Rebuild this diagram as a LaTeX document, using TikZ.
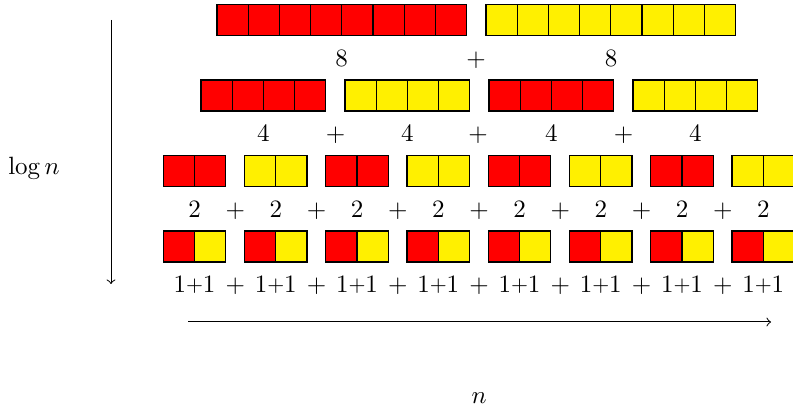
\documentclass[tikz,border=0pt]{standalone}
\definecolor{myyellow}{RGB}{255,240,0}
\definecolor{myred}{RGB}{255,0,0}
\tikzset{
  cell/.style={draw=black, line width=0.5pt, minimum width=12.48pt, minimum height=12.4pt, inner sep=0pt, outer sep=0pt, anchor=north west},
  redcell/.style={cell, fill=myred},
  yelcell/.style={cell, fill=myyellow},
  lbl/.style={anchor=base, inner sep=0pt, outer sep=0pt},
  axis/.style={->, line width=0.4pt}
}
\newcommand{\oneplusone}{1\raisebox{0.7pt}{\fontsize{8.5}{9}\selectfont+}1}
\begin{document}
\begin{tikzpicture}[x=0.4pt, y=-0.4pt]
\useasboundingbox (0,0) rectangle (793,411);
% row 1
\foreach \c in {0,...,7} {
  \node[redcell] (ra-\c) at (217+31.2*\c, 4.5) {};
  \node[yelcell] (ya-\c) at (486+31.2*\c, 4.5) {};
}
\node[lbl] (l1-0) at (341.5,66.5) {8};
\node[lbl] (p1-0) at (476,66.5) {+};
\node[lbl] (l1-1) at (611,66.5) {8};
% row 2
\foreach \g in {0,...,3} {
  \pgfmathtruncatemacro{\odd}{mod(\g,2)}
  \foreach \c in {0,...,3} {
    \ifnum\odd=0
      \node[redcell] (rb-\g-\c) at (201+144*\g+31.2*\c, 80) {};
    \else
      \node[yelcell] (rb-\g-\c) at (201+144*\g+31.2*\c, 80) {};
    \fi
  }
  \node[lbl] (l2-\g) at (201+144*\g+62.4, 142) {4};
}
\node[lbl] (p2-0) at (335.5,142) {+};
\node[lbl] (p2-1) at (478,142) {+};
\node[lbl] (p2-2) at (623.5,142) {+};
% row 3
\foreach \g in {0,...,7} {
  \pgfmathtruncatemacro{\odd}{mod(\g,2)}
  \foreach \c in {0,1} {
    \ifnum\odd=0
      \node[redcell] (rc-\g-\c) at (163.3+81.25*\g+31.2*\c, 155.5) {};
    \else
      \node[yelcell] (rc-\g-\c) at (163.3+81.25*\g+31.2*\c, 155.5) {};
    \fi
  }
  \node[lbl] (l3-\g) at (163.3+81.25*\g+31.2, 217.5) {2};
}
\foreach \g in {0,...,6} {
  \node[lbl] (p3-\g) at (163.3+81.25*\g+72.0, 217.5) {+};
}
% row 4
\foreach \g in {0,...,7} {
  \node[redcell] (rd-\g-0) at (163.3+81.25*\g, 231) {};
  \node[yelcell] (rd-\g-1) at (163.3+81.25*\g+31.2, 231) {};
  \node[lbl] (l4-\g) at (163.3+81.25*\g+31.2, 293) {\oneplusone};
}
\foreach \g in {0,...,6} {
  \node[lbl] (p4-\g) at (163.3+81.25*\g+72.0, 293) {+};
}
% axes
\coordinate (vtop) at (111,20);
\coordinate (vbot) at (111,284);
\draw[axis] (vtop) -- (vbot);
\node[lbl] (logn) at (34,175) {$\log n$};
\coordinate (hleft) at (188,322);
\coordinate (hright) at (771,322);
\draw[axis] (hleft) -- (hright);
\node[lbl] (nlbl) at (479,404) {$n$};
\end{tikzpicture}
\end{document}
